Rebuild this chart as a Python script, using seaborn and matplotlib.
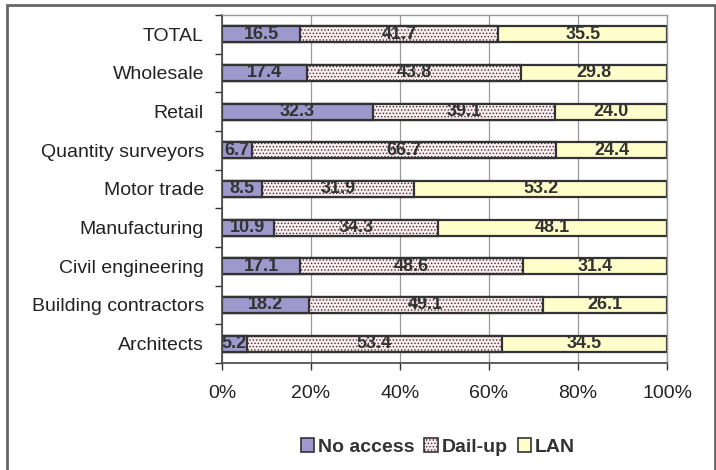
import numpy as np
import pandas as pd
import seaborn as sns
import matplotlib
import matplotlib.pyplot as plt
from matplotlib.patches import Patch, Rectangle

matplotlib.use("Agg")

categories = [
    "TOTAL",
    "Wholesale",
    "Retail",
    "Quantity surveyors",
    "Motor trade",
    "Manufacturing",
    "Civil engineering",
    "Building contractors",
    "Architects",
]
no_access = [16.5, 17.4, 32.3, 6.7, 8.5, 10.9, 17.1, 18.2, 5.2]
dial_up = [41.7, 43.8, 39.1, 66.7, 31.9, 34.3, 48.6, 49.1, 53.4]
lan = [35.5, 29.8, 24.0, 24.4, 53.2, 48.1, 31.4, 26.1, 34.5]
series_names = ["No access", "Dail-up", "LAN"]
x_ticks = [0, 20, 40, 60, 80, 100]

sns.set_style("white")
plt.rcParams["font.family"] = ["Liberation Sans", "DejaVu Sans"]
plt.rcParams["hatch.linewidth"] = 0.6
plt.rcParams["hatch.color"] = "#d4506f"

# 100% stacked: normalise each row
df = pd.DataFrame({"cat": categories, "a": no_access, "b": dial_up, "c": lan})
row_sum = df[["a", "b", "c"]].sum(axis=1)
df["pa"] = df["a"] / row_sum * 100
df["pb"] = df["b"] / row_sum * 100
df["pc"] = df["c"] / row_sum * 100
df["cum_b"] = df["pa"] + df["pb"]
df["cum_c"] = df["cum_b"] + df["pc"]

fig = plt.figure(figsize=(7.16, 4.70), dpi=100)
ax = fig.add_axes([222 / 716, 1 - 363 / 470, 445 / 716, 348 / 470])

edge = "#333333"
bw = 0.42
dial_face = "#FBEAEE"
dial_hatch = "....."
# draw from the back (full length) to the front
sns.barplot(data=df, x="cum_c", y="cat", order=categories, orient="h",
            color="#FFFFCC", edgecolor=edge, linewidth=1.6, width=bw, ax=ax,
            saturation=1)
sns.barplot(data=df, x="cum_b", y="cat", order=categories, orient="h",
            color=dial_face, edgecolor=edge, linewidth=1.6, width=bw, ax=ax,
            saturation=1, hatch=dial_hatch)
sns.barplot(data=df, x="pa", y="cat", order=categories, orient="h",
            color="#9E98CC", edgecolor=edge, linewidth=1.6, width=bw, ax=ax,
            saturation=1)

# segment labels
for i, row in df.iterrows():
    centers = [row["pa"] / 2, row["pa"] + row["pb"] / 2, row["cum_b"] + row["pc"] / 2]
    for cx, v in zip(centers, [row["a"], row["b"], row["c"]]):
        ax.text(cx, i, f"{v:.1f}", ha="center", va="center", fontsize=13,
                fontweight="bold", color="#333333")

ax.set_xlim(0, 100)
ax.set_ylim(len(categories) - 0.5, -0.5)
ax.set_xticks(x_ticks)
ax.set_xticklabels([f"{t}%" for t in x_ticks])
ax.set_xlabel("")
ax.set_ylabel("")
ax.xaxis.grid(True, color="#999999", linewidth=0.9)
ax.set_axisbelow(True)

ax.set_yticks(np.arange(len(categories) + 1) - 0.5, minor=True)
ax.tick_params(axis="y", which="major", length=0, pad=13, labelsize=14,
               labelcolor="#222222")
ax.tick_params(axis="y", which="minor", length=5, direction="out",
               color="#333333", width=1, left=True)
ax.tick_params(axis="x", which="major", length=5, direction="out",
               color="#333333", width=1, bottom=True, pad=11, labelsize=14,
               labelcolor="#222222")

for side in ["left", "bottom"]:
    ax.spines[side].set_color("#444444")
    ax.spines[side].set_linewidth(1.2)
for side in ["top", "right"]:
    ax.spines[side].set_color("#999999")
    ax.spines[side].set_linewidth(1.0)

handles = [
    Patch(facecolor="#9E98CC", edgecolor=edge, linewidth=1.2),
    Patch(facecolor=dial_face, edgecolor=edge, linewidth=1.2, hatch=dial_hatch),
    Patch(facecolor="#FFFFCC", edgecolor=edge, linewidth=1.2),
]
fig.legend(handles, series_names, loc="center", bbox_to_anchor=(438 / 716, 1 - 447 / 470),
           ncol=3, frameon=False, handlelength=0.7, handleheight=0.7,
           handletextpad=0.2, columnspacing=0.5,
           prop={"weight": "bold", "size": 14})
for t in fig.legends[0].get_texts():
    t.set_color("#333333")

# outer chart frame
fig.patches.append(Rectangle((7 / 716, -0.05), 708 / 716, 1.05 - 5 / 470,
                             transform=fig.transFigure, fill=False,
                             edgecolor="#666666", linewidth=2))

fig.savefig("out.png", dpi=100)
plt.close(fig)
